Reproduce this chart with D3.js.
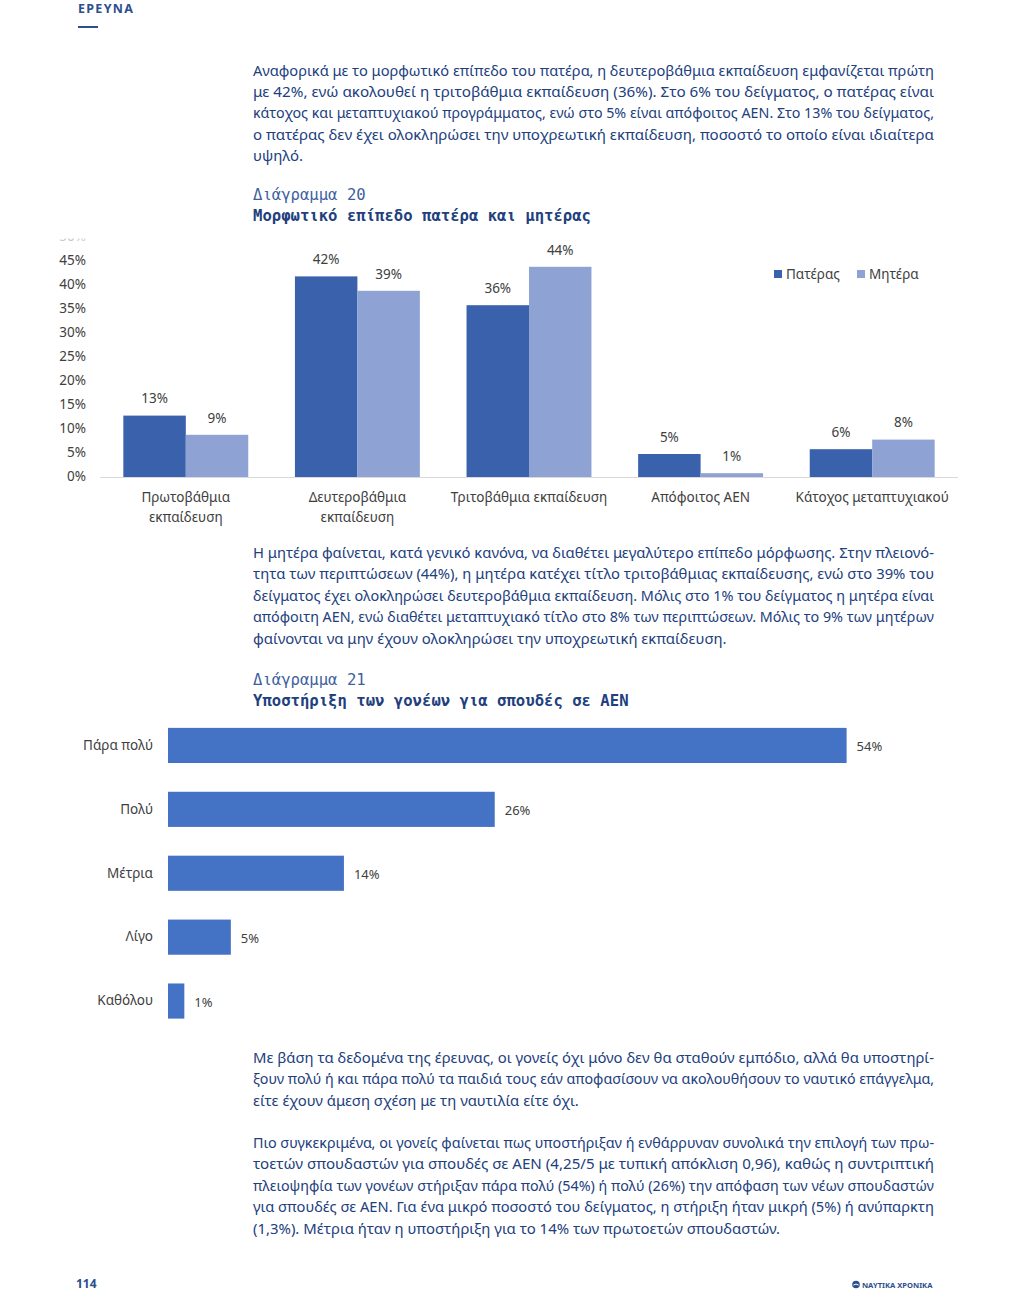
<!DOCTYPE html>
<html>
<head>
<meta charset="utf-8">
<script src="https://cdn.jsdelivr.net/npm/d3@7"></script>
<style>
  html, body { margin: 0; padding: 0; background: #fff; }
  svg { display: block; }
</style>
</head>
<body>
<svg id="page" width="1012" height="1291"></svg>
<script>
// ---------- DATA ----------
const eduCategories = ["Πρωτοβάθμια εκπαίδευση", "Δευτεροβάθμια εκπαίδευση", "Τριτοβάθμια εκπαίδευση", "Απόφοιτος ΑΕΝ", "Κάτοχος μεταπτυχιακού"];
const eduLabelLines = [["Πρωτοβάθμια", "εκπαίδευση"], ["Δευτεροβάθμια", "εκπαίδευση"], ["Τριτοβάθμια εκπαίδευση"], ["Απόφοιτος ΑΕΝ"], ["Κάτοχος μεταπτυχιακού"]];
const seriesNames = ["Πατέρας", "Μητέρα"];
const fatherValues = [13, 42, 36, 5, 6];
const motherValues = [9, 39, 44, 1, 8];
const eduTicks = [0, 5, 10, 15, 20, 25, 30, 35, 40, 45, 50];

const supportCategories = ["Πάρα πολύ", "Πολύ", "Μέτρια", "Λίγο", "Καθόλου"];
const supportValues = [54, 26, 14, 5, 1.3];

const para1 = [
  "Αναφορικά με το μορφωτικό επίπεδο του πατέρα, η δευτεροβάθμια εκπαίδευση εμφανίζεται πρώτη",
  "με 42%, ενώ ακολουθεί η τριτοβάθμια εκπαίδευση (36%). Στο 6% του δείγματος, ο πατέρας είναι",
  "κάτοχος και μεταπτυχιακού προγράμματος, ενώ στο 5% είναι απόφοιτος ΑΕΝ. Στο 13% του δείγματος,",
  "ο πατέρας δεν έχει ολοκληρώσει την υποχρεωτική εκπαίδευση, ποσοστό το οποίο είναι ιδιαίτερα",
  "υψηλό."
];
const para2 = [
  "Η μητέρα φαίνεται, κατά γενικό κανόνα, να διαθέτει μεγαλύτερο επίπεδο μόρφωσης. Στην πλειονό-",
  "τητα των περιπτώσεων (44%), η μητέρα κατέχει τίτλο τριτοβάθμιας εκπαίδευσης, ενώ στο 39% του",
  "δείγματος έχει ολοκληρώσει δευτεροβάθμια εκπαίδευση. Μόλις στο 1% του δείγματος η μητέρα είναι",
  "απόφοιτη ΑΕΝ, ενώ διαθέτει μεταπτυχιακό τίτλο στο 8% των περιπτώσεων. Μόλις το 9% των μητέρων",
  "φαίνονται να μην έχουν ολοκληρώσει την υποχρεωτική εκπαίδευση."
];
const para3 = [
  "Με βάση τα δεδομένα της έρευνας, οι γονείς όχι μόνο δεν θα σταθούν εμπόδιο, αλλά θα υποστηρί-",
  "ξουν πολύ ή και πάρα πολύ τα παιδιά τους εάν αποφασίσουν να ακολουθήσουν το ναυτικό επάγγελμα,",
  "είτε έχουν άμεση σχέση με τη ναυτιλία είτε όχι."
];
const para4 = [
  "Πιο συγκεκριμένα, οι γονείς φαίνεται πως υποστήριξαν ή ενθάρρυναν συνολικά την επιλογή των πρω-",
  "τοετών σπουδαστών για σπουδές σε ΑΕΝ (4,25/5 με τυπική απόκλιση 0,96), καθώς η συντριπτική",
  "πλειοψηφία των γονέων στήριξαν πάρα πολύ (54%) ή πολύ (26%) την απόφαση των νέων σπουδαστών",
  "για σπουδές σε ΑΕΝ. Για ένα μικρό ποσοστό του δείγματος, η στήριξη ήταν μικρή (5%) ή ανύπαρκτη",
  "(1,3%). Μέτρια ήταν η υποστήριξη για το 14% των πρωτοετών σπουδαστών."
];

// ---------- STYLE ----------
const navy = "#21407d";
const headBlue = "#2c4f8f";
const fatherColor = "#3a61ab";
const motherColor = "#8ea2d3";
const supportColor = "#4472c4";
const chartText = "#404040";
const sans = "'Noto Sans', 'Open Sans', sans-serif";
const mono = "'DejaVu Sans Mono', monospace";

const svg = d3.select("#page");

// ---------- HEADER / FOOTER ----------
svg.append("text").attr("x", 78).attr("y", 13)
  .attr("font-family", sans).attr("font-weight", 700).attr("font-size", 12.5)
  .attr("letter-spacing", 1.3).attr("fill", headBlue).text("ΕΡΕΥΝΑ");
svg.append("rect").attr("x", 78).attr("y", 26).attr("width", 20).attr("height", 2).attr("fill", headBlue);

svg.append("text").attr("x", 76).attr("y", 1287.5)
  .attr("font-family", sans).attr("font-weight", 700).attr("font-size", 12)
  .attr("fill", headBlue).text("114");
svg.append("circle").attr("cx", 856).attr("cy", 1284.5).attr("r", 3.8).attr("fill", headBlue);
svg.append("path").attr("d", "M853.3,1285.1 q2.7,-2 5.4,0").attr("stroke", "#fff").attr("stroke-width", 1).attr("fill", "none");
svg.append("text").attr("x", 862).attr("y", 1287.5)
  .attr("font-family", sans).attr("font-weight", 700).attr("font-size", 7.6)
  .attr("fill", headBlue).text("ΝΑΥΤΙΚΑ ΧΡΟΝΙΚΑ");

// ---------- PARAGRAPHS ----------
function paragraph(lines, firstBaseline) {
  const x = 253, width = 681, lh = 21.4;
  const g = svg.append("g").attr("font-family", sans).attr("font-size", 15).attr("fill", navy);
  const nodes = lines.map((t, i) => g.append("text").attr("x", x).attr("y", firstBaseline + i * lh).text(t));
  const factors = [];
  nodes.forEach((n, i) => {
    if (i < nodes.length - 1) {
      const w = n.node().getComputedTextLength();
      factors.push(width / w);
      n.attr("textLength", width).attr("lengthAdjust", "spacingAndGlyphs");
    }
  });
  const last = nodes[nodes.length - 1];
  const f = Math.min(1, d3.mean(factors) * 1.02);
  const wl = last.node().getComputedTextLength();
  last.attr("textLength", wl * f).attr("lengthAdjust", "spacingAndGlyphs");
}
paragraph(para1, 75.5);
paragraph(para2, 558);
paragraph(para3, 1063);
paragraph(para4, 1148);

// ---------- CHART TITLES ----------
function chartTitle(num, title, y) {
  svg.append("text").attr("x", 253).attr("y", y).attr("font-family", mono).attr("font-size", 15.6)
    .attr("fill", "#3e5f9f").text(num);
  svg.append("text").attr("x", 253).attr("y", y + 21).attr("font-family", mono).attr("font-size", 15.6)
    .attr("font-weight", 700).attr("fill", navy).text(title);
}
chartTitle("Διάγραμμα 20", "Μορφωτικό επίπεδο πατέρα και μητέρας", 200);
chartTitle("Διάγραμμα 21", "Υποστήριξη των γονέων για σπουδές σε ΑΕΝ", 685);

// ---------- CHART 20 : grouped columns ----------
const c1 = svg.append("g");
const y1 = d3.scaleLinear().domain([0, 50]).range([478, 238]);
const x1 = d3.scaleBand().domain(eduCategories).range([100, 958]).paddingInner(0.272).paddingOuter(0.136);
const xs = d3.scaleBand().domain(seriesNames).range([0, x1.bandwidth()]);
const series = [fatherValues, motherValues];
const colors = [fatherColor, motherColor];

c1.append("defs").append("clipPath").attr("id", "c1clip")
  .attr("clipPathUnits", "userSpaceOnUse")
  .append("rect").attr("x", -200).attr("y", 240.5).attr("width", 1200).attr("height", 400);

// y axis labels (no line)
const yAxis = d3.axisLeft(y1).tickValues(eduTicks).tickFormat(d => d + "%").tickSize(0).tickPadding(0);
const yg = c1.append("g").attr("transform", "translate(86,-2)").attr("clip-path", "url(#c1clip)").call(yAxis);
yg.select(".domain").remove();
yg.selectAll("text").attr("font-family", sans).attr("font-size", 13.5).attr("fill", chartText);
yg.selectAll(".tick").filter(d => d === 50).select("text").attr("fill", "#c8c8c8");

// bars
series.forEach((vals, s) => {
  c1.append("g").selectAll("rect").data(vals).join("rect")
    .attr("x", (d, i) => x1(eduCategories[i]) + xs(seriesNames[s]))
    .attr("y", d => y1(d))
    .attr("width", xs.bandwidth())
    .attr("height", d => y1(0) - y1(d))
    .attr("fill", colors[s]);
  c1.append("g").selectAll("text").data(vals).join("text")
    .attr("x", (d, i) => x1(eduCategories[i]) + xs(seriesNames[s]) + xs.bandwidth() / 2)
    .attr("y", d => y1(d) - 17)
    .attr("dy", "0.35em")
    .attr("text-anchor", "middle")
    .attr("font-family", sans).attr("font-size", 13.5).attr("fill", chartText)
    .text(d => Math.round(d) + "%");
});

// x axis baseline
c1.append("line").attr("x1", 100).attr("x2", 958).attr("y1", y1(0) - 0.5).attr("y2", y1(0) - 0.5)
  .attr("stroke", "#d9d9d9").attr("stroke-width", 1);

// category labels
const catG = c1.append("g").attr("font-family", sans).attr("font-size", 13.5).attr("fill", chartText).attr("text-anchor", "middle");
eduCategories.forEach((c, i) => {
  eduLabelLines[i].forEach((ln, j) => {
    catG.append("text").attr("x", x1(c) + x1.bandwidth() / 2).attr("y", 502 + j * 20).text(ln);
  });
});

// legend
const leg = c1.append("g").attr("font-family", sans).attr("font-size", 13.5).attr("fill", chartText);
const legX = [774, 857];
seriesNames.forEach((n, i) => {
  leg.append("rect").attr("x", legX[i]).attr("y", 270).attr("width", 8).attr("height", 8).attr("fill", colors[i]);
  leg.append("text").attr("x", legX[i] + 12).attr("y", 274).attr("dy", "0.35em").text(n);
});

// ---------- CHART 21 : horizontal bars ----------
const c2 = svg.append("g");
const x2 = d3.scaleLinear().domain([0, 60]).range([168, 922]);
const y2 = d3.scaleBand().domain(supportCategories).range([713.5, 1033]).paddingInner(0.45).paddingOuter(0.225);

c2.append("g").selectAll("rect").data(supportValues).join("rect")
  .attr("x", x2(0))
  .attr("y", (d, i) => y2(supportCategories[i]))
  .attr("width", d => x2(d) - x2(0))
  .attr("height", y2.bandwidth())
  .attr("fill", supportColor);

c2.append("g").selectAll("text").data(supportValues).join("text")
  .attr("x", d => x2(d) + 10)
  .attr("y", (d, i) => y2(supportCategories[i]) + y2.bandwidth() / 2 + 1)
  .attr("dy", "0.35em")
  .attr("font-family", sans).attr("font-size", 13).attr("fill", chartText)
  .text(d => Math.round(d) + "%");

const yAxis2 = d3.axisLeft(y2).tickSize(0).tickPadding(0);
const y2g = c2.append("g").attr("transform", "translate(153,0)").call(yAxis2);
y2g.select(".domain").remove();
y2g.selectAll("text").attr("font-family", sans).attr("font-size", 13.5).attr("fill", chartText);
</script>
</body>
</html>
